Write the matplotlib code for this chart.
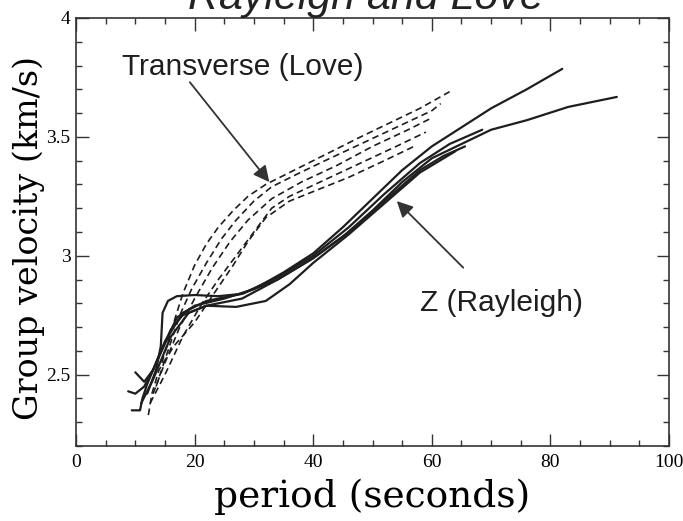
import matplotlib
matplotlib.use("Agg")
import matplotlib.pyplot as plt
from matplotlib.ticker import MultipleLocator, FixedLocator

# ---- data (period s, group velocity km/s) ----
ray1_x = [10.0, 11.5, 13, 15, 17, 20, 25, 30, 35, 40, 45, 50, 55, 60, 65, 70, 76, 82]
ray1_y = [2.51, 2.47, 2.52, 2.63, 2.74, 2.79, 2.82, 2.86, 2.93, 3.01, 3.12, 3.24, 3.36, 3.46, 3.54, 3.62, 3.70, 3.786]

ray2_x = [9.4, 10.8, 11.2, 12, 14, 16, 18, 22, 28, 34, 40, 45, 50, 55, 60, 65, 70, 76, 83, 91.2]
ray2_y = [2.35, 2.35, 2.40, 2.46, 2.58, 2.69, 2.75, 2.79, 2.82, 2.90, 2.99, 3.08, 3.19, 3.31, 3.41, 3.47, 3.53, 3.57, 3.626, 3.668]

ray3_x = [8.8, 10, 11.5, 13, 15, 18, 22, 28, 34, 40, 46, 52, 58, 63, 68.5]
ray3_y = [2.43, 2.42, 2.45, 2.52, 2.64, 2.76, 2.81, 2.84, 2.91, 3.00, 3.12, 3.26, 3.39, 3.47, 3.53]

ray4_x = [12, 13.5, 14.3, 14.6, 15.5, 17, 20, 24, 28, 34, 40, 46, 52, 58, 62, 65.6]
ray4_y = [2.42, 2.52, 2.62, 2.76, 2.81, 2.83, 2.835, 2.83, 2.84, 2.90, 2.99, 3.10, 3.23, 3.36, 3.42, 3.46]

ray5_x = [11, 13, 16, 19, 22, 27, 32, 36, 40, 46, 52, 58, 64]
ray5_y = [2.38, 2.48, 2.66, 2.76, 2.79, 2.785, 2.81, 2.88, 2.97, 3.09, 3.22, 3.35, 3.44]

love1_x = [14.5, 16, 18, 20, 22, 24, 26.5, 29, 32, 36, 40, 44, 48, 53, 58, 63]
love1_y = [2.55, 2.68, 2.84, 2.96, 3.05, 3.12, 3.19, 3.25, 3.30, 3.35, 3.40, 3.45, 3.50, 3.56, 3.62, 3.69]

love2_x = [13.5, 15.5, 17.5, 19.5, 22, 24.5, 27, 30, 33, 37, 42, 48, 54, 60, 61.5]
love2_y = [2.45, 2.60, 2.75, 2.86, 2.97, 3.07, 3.15, 3.23, 3.29, 3.34, 3.40, 3.47, 3.54, 3.61, 3.64]

love3_x = [13, 15, 17.5, 20, 23, 26, 29, 33, 38, 44, 50, 56, 60]
love3_y = [2.42, 2.55, 2.70, 2.82, 2.95, 3.06, 3.15, 3.24, 3.31, 3.38, 3.46, 3.53, 3.58]

love4_x = [12.5, 15, 18, 21, 24, 27, 30, 33, 36, 42, 48, 54, 59]
love4_y = [2.38, 2.50, 2.66, 2.79, 2.90, 3.00, 3.10, 3.20, 3.25, 3.32, 3.39, 3.46, 3.52]

love5_x = [12.2, 12.8, 14, 16.5, 20, 23.5, 26.5, 29, 32, 36, 40, 46, 52, 57]
love5_y = [2.33, 2.42, 2.52, 2.62, 2.72, 2.85, 2.96, 3.06, 3.16, 3.23, 3.27, 3.33, 3.40, 3.46]

rayleigh = [(ray1_x, ray1_y), (ray2_x, ray2_y), (ray3_x, ray3_y), (ray4_x, ray4_y), (ray5_x, ray5_y)]
love = [(love1_x, love1_y), (love2_x, love2_y), (love3_x, love3_y), (love4_x, love4_y), (love5_x, love5_y)]

x_ticks = [0, 20, 40, 60, 80, 100]
x_tick_labels = ["0", "20", "40", "60", "80", "100"]
y_ticks = [2.5, 3.0, 3.5, 4.0]
y_tick_labels = ["2.5", "3", "3.5", "4"]

title = "Rayleigh and Love"
love_label = "Transverse (Love)"
ray_label = "Z (Rayleigh)"
love_arrow_tail = (19.2, 3.73)
love_arrow_tip = (32.6, 3.31)
ray_arrow_tail = (65.3, 2.95)
ray_arrow_tip = (54.1, 3.23)

# ---- figure ----
fig = plt.figure(figsize=(6.83, 5.21), dpi=100)
ax = fig.add_axes([76/683, 1 - 446/521, (669 - 76)/683, (446 - 18)/521])

ink = "#1e1e1e"
for xs, ys in rayleigh:
    ax.plot(xs, ys, color=ink, lw=1.6, solid_capstyle="round")
for xs, ys in love:
    ax.plot(xs, ys, color=ink, lw=1.2, linestyle=(0, (4, 2.5)))

ax.set_xlim(0, 100)
ax.set_ylim(2.2, 4.0)

serif = "DejaVu Serif"
tickfont = "Liberation Serif"
ax.xaxis.set_major_locator(FixedLocator(x_ticks))
ax.set_xticklabels(x_tick_labels, family=tickfont, fontsize=14)
ax.xaxis.set_minor_locator(MultipleLocator(5))
ax.yaxis.set_major_locator(FixedLocator(y_ticks))
ax.set_yticklabels(y_tick_labels, family=tickfont, fontsize=14)
ax.yaxis.set_minor_locator(MultipleLocator(0.1))
ax.tick_params(which="both", direction="in", top=True, right=True, color="#333333", width=1.0)
ax.tick_params(which="major", length=9)
ax.tick_params(axis="y", which="major", pad=4)
ax.tick_params(axis="x", which="major", pad=6)
ax.tick_params(which="minor", length=4)
for s in ax.spines.values():
    s.set_color("#333333")
    s.set_linewidth(1.2)

ax.set_xlabel("period (seconds)", family=serif, fontsize=27)
ax.xaxis.label.set_va("baseline")
ax.xaxis.set_label_coords(0.5, -(507 - 446) / 428)
ax.set_ylabel("Group velocity (km/s)", family=serif, fontsize=24)
ax.yaxis.set_label_coords((45 - 76) / 593, 0.486)

fig.text(366/683, 1 - 9/521, title, ha="center", va="baseline", family="Liberation Sans",
         style="italic", fontsize=31, color="#222222")

ax.text(7.7, 3.76, love_label, family="Liberation Sans", fontsize=21.5, color=ink, va="baseline")
ax.text(58.0, 2.86, ray_label, family="Liberation Sans", fontsize=21.5, color=ink, va="top")

arrow = dict(arrowstyle="-|>", mutation_scale=24, lw=1.3, color="#333333", shrinkA=0, shrinkB=0)
ax.annotate("", xy=love_arrow_tip, xytext=love_arrow_tail, arrowprops=arrow)
ax.annotate("", xy=ray_arrow_tip, xytext=ray_arrow_tail, arrowprops=arrow)

fig.savefig("out.png", dpi=100)
